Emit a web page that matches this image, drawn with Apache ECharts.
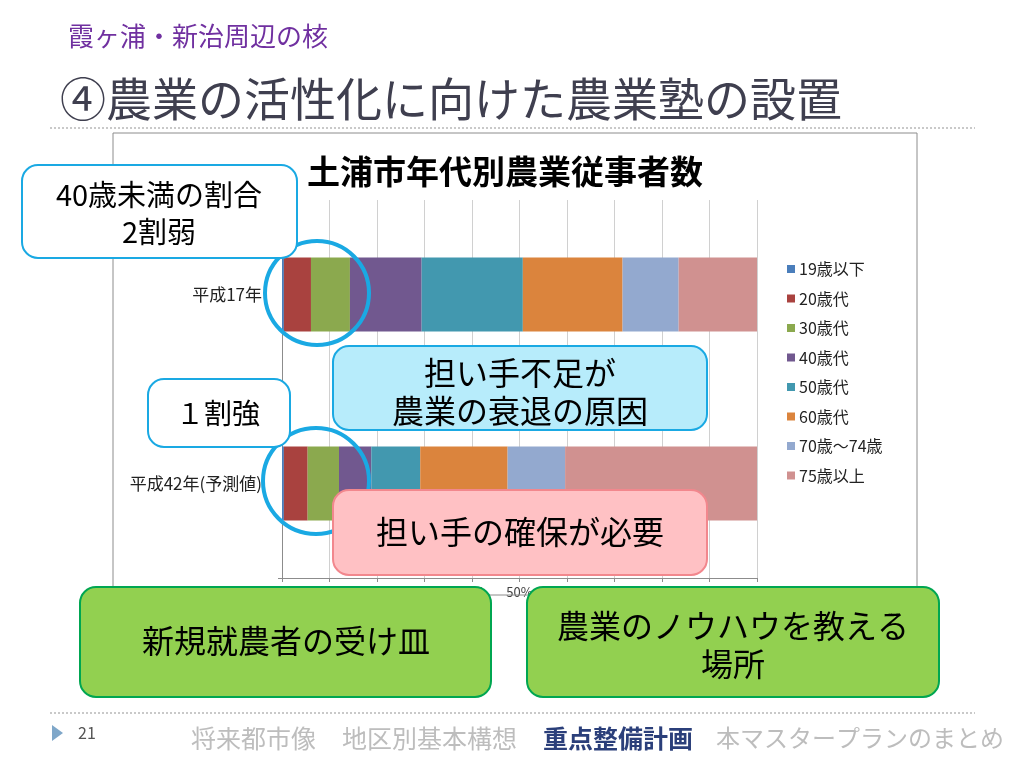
<!DOCTYPE html>
<html>
<head>
<meta charset="utf-8">
<script src="https://cdn.jsdelivr.net/npm/echarts@6/dist/echarts.min.js"></script>
<style>
  html, body { margin: 0; padding: 0; background: #fff; }
  #main { width: 1024px; height: 768px; }
</style>
</head>
<body>
<div id="main"></div>
<script>
// categories (top to bottom) and age groups
var years = ['平成17年', '平成42年(予測値)'];
var ageGroups = ['19歳以下', '20歳代', '30歳代', '40歳代', '50歳代', '60歳代', '70歳～74歳', '75歳以上'];
// share of farm workers per age group (%), one value per year
var under19 = [0.4, 0.4];
var age20s = [5.7, 5.0];
var age30s = [8.2, 6.6];
var age40s = [15.1, 6.8];
var age50s = [21.3, 10.3];
var age60s = [21.0, 18.4];
var age70to74 = [11.8, 12.1];
var age75plus = [16.5, 40.4];
var xTicks = [0, 10, 20, 30, 40, 50, 60, 70, 80, 90, 100];

var colors = ['#4A7EBB', '#A9423F', '#8BA94E', '#71588F', '#4298AF', '#DB843D', '#93A9CF', '#D09190'];
var font = '"Noto Sans CJK JP", "Noto Sans", sans-serif';

var chart = echarts.init(document.getElementById('main'));

var seriesValues = [under19, age20s, age30s, age40s, age50s, age60s, age70to74, age75plus];
var series = ageGroups.map(function (name, i) {
  return {
    name: name,
    type: 'bar',
    stack: 'total',
    barWidth: 74,
    itemStyle: { color: colors[i] },
    data: seriesValues[i]
  };
});

function box(x, y, w, h, fill, stroke) {
  return {
    type: 'rect', z: 100,
    shape: { x: x, y: y, width: w, height: h, r: 16 },
    style: { fill: fill, stroke: stroke, lineWidth: 2 }
  };
}
function label(text, x, y, size, color, weight) {
  return {
    type: 'text', z: 101, x: x, y: y,
    style: {
      text: text, fontSize: size, fontFamily: font, fontWeight: weight || 'normal',
      fill: color || '#000', align: 'center', verticalAlign: 'middle'
    }
  };
}
function leftText(text, x, y, size, color, weight) {
  return {
    type: 'text', z: 101, x: x, y: y,
    style: {
      text: text, fontSize: size, fontFamily: font, fontWeight: weight || 'normal',
      fill: color, align: 'left', verticalAlign: 'middle'
    }
  };
}

var graphics = [
  // slide header
  leftText('霞ヶ浦・新治周辺の核', 68, 36, 26, '#7030A0'),
  leftText('④農業の活性化に向けた農業塾の設置', 60, 99, 46, '#3F3F4F'),
  { type: 'line', z: 100, shape: { x1: 50, y1: 128, x2: 975, y2: 128 },
    style: { stroke: '#B8B8B8', lineWidth: 1.5, lineDash: [2, 2] } },
  // chart frame
  { type: 'rect', z: 1, shape: { x: 113, y: 133, width: 804, height: 462 },
    style: { fill: 'none', stroke: '#8C8C8C', lineWidth: 1 } },
  // highlight circles
  { type: 'circle', z: 99, shape: { cx: 317, cy: 293, r: 52 },
    style: { fill: 'none', stroke: '#1AA9E3', lineWidth: 4 } },
  { type: 'circle', z: 99, shape: { cx: 316, cy: 481, r: 53 },
    style: { fill: 'none', stroke: '#1AA9E3', lineWidth: 4 } },
  // callouts
  box(22, 165, 275, 93, '#FFFFFF', '#1AA9E3'),
  label('40歳未満の割合', 159, 195, 29),
  label('2割弱', 159, 232, 29),
  box(148, 379, 142, 68, '#FFFFFF', '#1AA9E3'),
  label('１割強', 218, 413, 28),
  box(333, 346, 374, 84, '#B7ECFB', '#1AA9E3'),
  label('担い手不足が', 520, 373, 32),
  label('農業の衰退の原因', 520, 411, 32),
  box(333, 490, 374, 85, '#FFC1C4', '#F2878D'),
  label('担い手の確保が必要', 520, 532, 32),
  box(80, 587, 411, 110, '#92D050', '#00A651'),
  label('新規就農者の受け皿', 286, 641, 32),
  box(527, 587, 412, 110, '#92D050', '#00A651'),
  label('農業のノウハウを教える', 733, 626, 32),
  label('場所', 733, 664, 32),
  // footer
  { type: 'line', z: 100, shape: { x1: 50, y1: 713, x2: 975, y2: 713 },
    style: { stroke: '#B8B8B8', lineWidth: 1.5, lineDash: [2, 2] } },
  { type: 'polygon', z: 100, shape: { points: [[52, 725], [63, 733], [52, 741]] },
    style: { fill: '#7FA7C9' } },
  leftText('21', 78, 733, 16, '#555555'),
  leftText('将来都市像', 191, 738, 25, '#BDBDBD'),
  leftText('地区別基本構想', 342, 738, 25, '#BDBDBD'),
  leftText('重点整備計画', 543, 738, 25, '#2B3F7A', 'bold'),
  leftText('本マスタープランのまとめ', 716, 738, 24, '#BDBDBD')
];

chart.setOption({
  backgroundColor: '#FFFFFF',
  animation: false,
  textStyle: { fontFamily: font },
  title: {
    text: '土浦市年代別農業従事者数',
    left: 500, top: 150, textAlign: 'center',
    textStyle: { fontSize: 33, fontWeight: 'bold', color: '#000', fontFamily: font }
  },
  legend: {
    orient: 'vertical',
    left: 782, top: 256,
    itemWidth: 8, itemHeight: 8, itemGap: 13.5,
    icon: 'rect',
    data: ageGroups,
    textStyle: { fontSize: 16, color: '#222', fontFamily: font, padding: [0, 0, 0, -1] }
  },
  grid: { left: 282, right: 267, top: 200, bottom: 190, containLabel: false },
  xAxis: {
    type: 'value', min: 0, max: 100, interval: 10,
    axisLine: { show: true, lineStyle: { color: '#8C8C8C' } },
    axisTick: { show: true, length: 4, lineStyle: { color: '#8C8C8C' } },
    axisLabel: {
      color: '#404040', fontSize: 13, margin: 8,
      formatter: function (v) { return xTicks.indexOf(v) >= 0 ? v + '%' : ''; }
    },
    splitLine: { show: true, lineStyle: { color: '#D0D0D0' } }
  },
  yAxis: {
    type: 'category', inverse: true, data: years,
    axisLine: { show: true, lineStyle: { color: '#8C8C8C' } },
    axisTick: { show: true, length: 4, lineStyle: { color: '#8C8C8C' } },
    axisLabel: { color: '#222', fontSize: 17, margin: 20 }
  },
  series: series,
  graphic: graphics
});
</script>
</body>
</html>
